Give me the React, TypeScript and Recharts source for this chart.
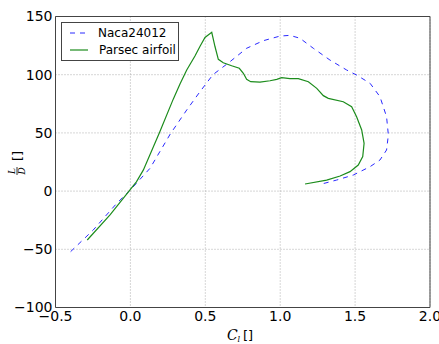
import React from "react";
import { LineChart, Line, XAxis, YAxis, CartesianGrid, ReferenceLine } from "recharts";

const nacaCl = [-0.399, -0.248, -0.091, 0.0, 0.131, 0.266, 0.376, 0.465, 0.551, 0.665, 0.776, 0.887, 0.999, 1.065, 1.132, 1.221, 1.332, 1.444, 1.51, 1.6, 1.666, 1.71, 1.722, 1.71, 1.666, 1.6, 1.488, 1.377, 1.277];
const nacaLD = [-52, -33.4, -10.5, 1, 19.6, 49, 69.7, 85.5, 100, 111.2, 122.7, 129.2, 133.2, 133.8, 131.3, 122.7, 112.6, 104, 99.7, 92.6, 81.1, 63.9, 48.2, 35.3, 26.7, 21, 13.8, 9.5, 6.1];

const parsecCl = [-0.288, -0.136, 0.0, 0.04, 0.086, 0.193, 0.286, 0.331, 0.376, 0.431, 0.465, 0.498, 0.543, 0.565, 0.587, 0.62, 0.676, 0.727, 0.754, 0.776, 0.803, 0.865, 0.932, 0.977, 1.01, 1.065, 1.121, 1.188, 1.244, 1.288, 1.321, 1.421, 1.477, 1.51, 1.544, 1.56, 1.551, 1.521, 1.466, 1.4, 1.31, 1.166];
const parsecLD = [-42, -20.5, 1.5, 8, 18, 50, 79, 92, 104, 116, 124.5, 132, 136.4, 124, 113.2, 110.3, 107.7, 105.5, 101.2, 96, 94, 93.7, 94.8, 96, 97.4, 96.6, 96.6, 94, 88.3, 82, 79.7, 76.8, 72.5, 63.9, 52.5, 41, 29.6, 22.4, 16.7, 13, 9.5, 6.1];

const xTicks = [-0.5, 0.0, 0.5, 1.0, 1.5, 2.0];
const yTicks = [-100, -50, 0, 50, 100, 150];

const seriesNames = ["Naca24012", "Parsec airfoil"];

const naca = nacaCl.map((c, i) => ({ cl: c, ld: nacaLD[i] }));
const parsec = parsecCl.map((c, i) => ({ cl: c, ld: parsecLD[i] }));

const BLUE = "#2a2aff";
const GREEN = "#1c8c1c";
const FONT = "'DejaVu Sans', sans-serif";

const fmt = (v: number, d: number) => {
  const s = v.toFixed(d);
  return s.replace("-", "\u2212");
};

const LegendBox = () => (
  <div
    style={{
      position: "absolute",
      left: 61,
      top: 22,
      width: 116,
      height: 37,
      border: "1px solid #444",
      background: "#fff",
      fontFamily: FONT,
      fontSize: 12,
      color: "#000",
    }}
  >
    <svg width={30} height={37} style={{ position: "absolute", left: 0, top: 0 }}>
      <line x1={8} x2={26} y1={10} y2={10} stroke={BLUE} strokeWidth={1} strokeDasharray="5 5" />
      <line x1={8} x2={26} y1={27} y2={27} stroke={GREEN} strokeWidth={1.2} />
    </svg>
    <div style={{ position: "absolute", left: 36, top: 2, lineHeight: "16px", whiteSpace: "nowrap" }}>{seriesNames[0]}</div>
    <div style={{ position: "absolute", left: 37, top: 19, lineHeight: "16px", whiteSpace: "nowrap" }}>{seriesNames[1]}</div>
  </div>
);

const YLabel = () => (
  <g transform="translate(17,163) rotate(-90)">
    <text x={-8} y={-2} fontSize={9} fontStyle="italic" fontFamily="'DejaVu Serif', serif" textAnchor="middle" fill="#000">L</text>
    <line x1={-12} x2={-4} y1={0} y2={0} stroke="#000" strokeWidth={0.8} />
    <text x={-8} y={8} fontSize={9} fontStyle="italic" fontFamily="'DejaVu Serif', serif" textAnchor="middle" fill="#000">D</text>
    <text x={7} y={5} fontSize={13} fontFamily={FONT} textAnchor="middle" fill="#000">[]</text>
  </g>
);

const XLabel = () => (
  <g>
    <text x={227} y={340} fontSize={14} fontStyle="italic" fontFamily="'DejaVu Serif', serif" fill="#000">C</text>
    <text x={237.5} y={342} fontSize={8} fontStyle="italic" fontFamily="'DejaVu Serif', serif" fill="#000">l</text>
    <text x={243} y={340} fontSize={13} fontFamily={FONT} fill="#000">[]</text>
  </g>
);

export default function App() {
  return (
    <div style={{ position: "absolute", left: 0, top: 0, width: 439, height: 344, background: "#fff" }}>
      <LineChart width={439} height={344} margin={{ top: 16.5, right: 9, bottom: 6.5, left: 0 }}>
        <CartesianGrid stroke="#999" strokeDasharray="1 2" strokeWidth={0.8} horizontalValues={yTicks} verticalValues={xTicks} />
        <XAxis
          dataKey="cl"
          type="number"
          domain={[-0.5, 2]}
          ticks={xTicks}
          allowDataOverflow
          height={30}
          tickLine={false}
          tickSize={0}
          tickMargin={4}
          axisLine={{ stroke: "#444", strokeWidth: 1 }}
          tick={{ fontSize: 14, fill: "#000", fontFamily: FONT }}
          tickFormatter={(v: number) => fmt(v, 1)}
          label={{ content: () => <XLabel /> }}
        />
        <YAxis
          dataKey="ld"
          type="number"
          domain={[-100, 150]}
          ticks={yTicks}
          allowDataOverflow
          width={55.5}
          tickLine={false}
          tickSize={0}
          tickMargin={3}
          axisLine={{ stroke: "#444", strokeWidth: 1 }}
          tick={{ fontSize: 14, fill: "#000", fontFamily: FONT }}
          tickFormatter={(v: number) => fmt(v, 0)}
          label={{ content: () => <YLabel /> }}
        />
        <ReferenceLine x={2} stroke="#444" strokeWidth={1} />
        <ReferenceLine y={150} stroke="#444" strokeWidth={1} />
        <Line
          data={naca}
          dataKey="ld"
          name={seriesNames[0]}
          type="linear"
          stroke={BLUE}
          strokeWidth={1}
          strokeDasharray="5 5"
          dot={false}
          isAnimationActive={false}
        />
        <Line
          data={parsec}
          dataKey="ld"
          name={seriesNames[1]}
          type="linear"
          stroke={GREEN}
          strokeWidth={1.2}
          dot={false}
          isAnimationActive={false}
        />
      </LineChart>
      <LegendBox />
    </div>
  );
}
